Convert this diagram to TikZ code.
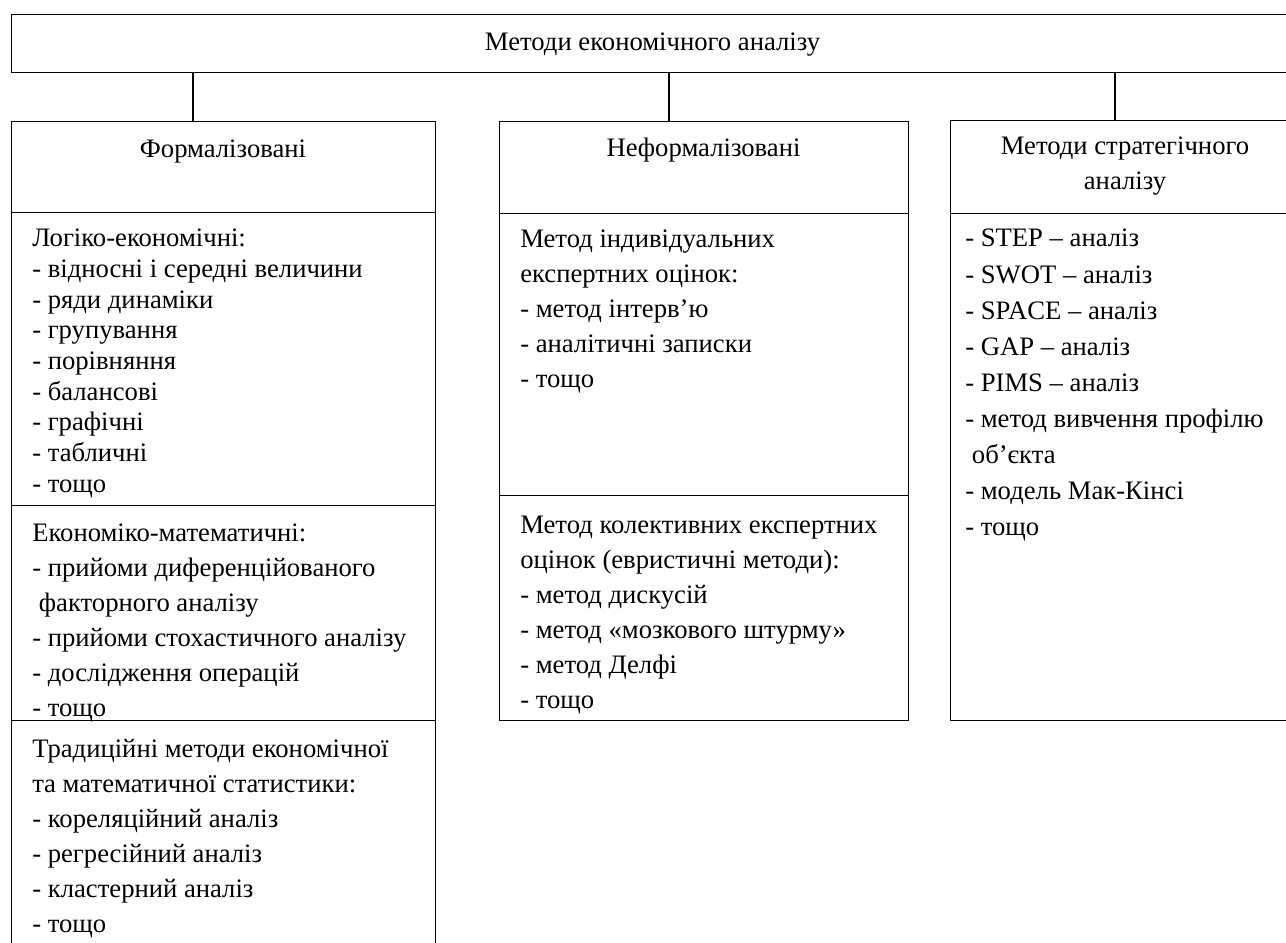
\documentclass[tikz,border=0pt]{standalone}
\usepackage{fontspec}
\setmainfont{Liberation Serif}
\begin{document}
\begin{tikzpicture}[x=0.75pt,y=-0.75pt,
  box/.style={draw,line width=1.1pt,rectangle,inner sep=0pt,anchor=north west},
  head/.style={font=\fontsize{20}{26.25}\selectfont,align=center,inner sep=0pt},
  list/.style={font=\fontsize{20}{26.25}\selectfont,align=left,inner sep=0pt,anchor=north west},
  link/.style={line width=1.1pt}]
\useasboundingbox (0,0) rectangle (1286,943);
\clip (0,0) rectangle (1286,943);
% boxes
\node[box,minimum width=1283*0.75pt,minimum height=58*0.75pt] (top) at (11,14) {};
\node[box,minimum width=424*0.75pt,minimum height=91*0.75pt] (Lh) at (11,121) {};
\node[box,minimum width=424*0.75pt,minimum height=293*0.75pt] (L1) at (11,212) {};
\node[box,minimum width=424*0.75pt,minimum height=215*0.75pt] (L2) at (11,505) {};
\node[box,minimum width=424*0.75pt,minimum height=250*0.75pt] (L3) at (11,720) {};
\node[box,minimum width=409*0.75pt,minimum height=92*0.75pt] (Mh) at (499,121) {};
\node[box,minimum width=409*0.75pt,minimum height=282*0.75pt] (M1) at (499,213) {};
\node[box,minimum width=409*0.75pt,minimum height=225*0.75pt] (M2) at (499,495) {};
\node[box,minimum width=350*0.75pt,minimum height=93*0.75pt] (Rh) at (950,120) {};
\node[box,minimum width=350*0.75pt,minimum height=507*0.75pt] (R1) at (950,213) {};
% connectors
\draw[link] ([xshift=182*0.75pt]Lh.north west) -- ([xshift=182*0.75pt]Lh.north west |- top.south);
\draw[link] ([xshift=170*0.75pt]Mh.north west) -- ([xshift=170*0.75pt]Mh.north west |- top.south);
\draw[link] ([xshift=165*0.75pt]Rh.north west) -- ([xshift=165*0.75pt]Rh.north west |- top.south);
% texts
\node[head,anchor=base] (ttop) at (652.5,50) {Методи економічного аналізу};
\node[head,anchor=base] (tLh) at (223,157) {Формалізовані};
\node[head,anchor=base] (tMh) at (703.5,156) {Неформалізовані};
\node[head] (tRh) at (1125,166) {Методи стратегічного\\аналізу};
\node[list,font=\fontsize{20}{23}\selectfont] (tL1) at (32,229) {Логіко-економічні:\\
- відносні і середні величини\\
- ряди динаміки\\
- групування\\
- порівняння\\
- балансові\\
- графічні\\
- табличні\\
- тощо};
\node[list] (tL2) at (32,524) {Економіко-математичні:\\
- прийоми диференційованого\\
\hspace{0.25em}факторного аналізу\\
- прийоми стохастичного аналізу\\
- дослідження операцій\\
- тощо};
\node[list] (tL3) at (32,739) {Традиційні методи економічної\\
та математичної статистики:\\
- кореляційний аналіз\\
- регресійний аналіз\\
- кластерний аналіз\\
- тощо};
\node[list] (tM1) at (520,230) {Метод індивідуальних\\
експертних оцінок:\\
- метод інтерв’ю\\
- аналітичні записки\\
- тощо};
\node[list] (tM2) at (520,516) {Метод колективних експертних\\
оцінок (евристичні методи):\\
- метод дискусій\\
- метод «мозкового штурму»\\
- метод Делфі\\
- тощо};
\node[list,font=\fontsize{20}{27.1}\selectfont] (tR1) at (965,229) {- STEP – аналіз\\
- SWOT – аналіз\\
- SPACE – аналіз\\
- GAP – аналіз\\
- PIMS – аналіз\\
- метод вивчення профілю\\
\hspace{0.25em}об’єкта\\
- модель Мак-Кінсі\\
- тощо};
\end{tikzpicture}
\end{document}
